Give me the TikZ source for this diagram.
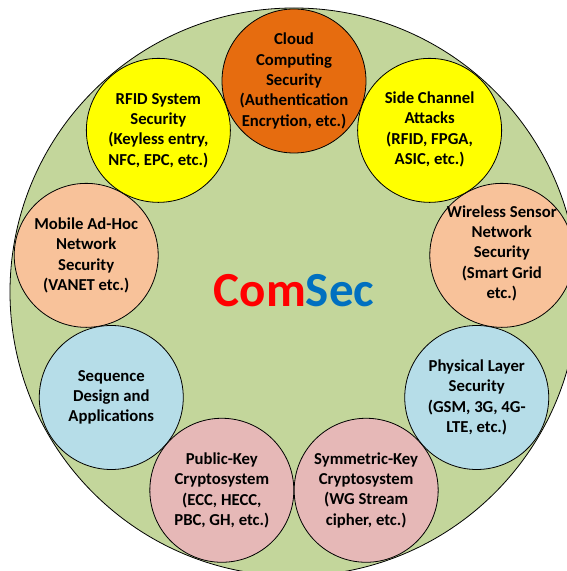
\documentclass[tikz,border=0pt]{standalone}
\usepackage{fontspec}
\setmainfont{Carlito}
\usetikzlibrary{calc}
\definecolor{basegreen}{HTML}{C3D69B}
\definecolor{cloudorange}{HTML}{E66C0F}
\definecolor{topicyellow}{HTML}{FFFF00}
\definecolor{topicpeach}{HTML}{F8C29A}
\definecolor{topicblue}{HTML}{B6DDE8}
\definecolor{topicpink}{HTML}{E6B8B7}
\definecolor{comred}{HTML}{FF0000}
\definecolor{comblue}{HTML}{0070C0}
\begin{document}
\begin{tikzpicture}[x=1pt,y=1pt,
  topic/.style={circle, draw=black, line width=0.8pt, minimum size=144pt, inner sep=0pt},
  topictext/.style={align=center, inner sep=0pt, text=black,
    font=\bfseries\fontsize{16.7}{20.3}\selectfont}]
\useasboundingbox (0,0) rectangle (567,571);
\clip (0,0) rectangle (567,571);
\coordinate (O) at (294,279);
% outer disc
\node[circle, draw=black, line width=0.8pt, fill=basegreen, minimum size=568pt, inner sep=0pt] (base) at (O) {};
% ring of topic circles, 40 degrees apart
\node[topic, fill=cloudorange] (cloud) at ($(O)+(90:211)$) {};
\node[topic, fill=topicyellow] (rfid) at ($(O)+(130:211)$) {};
\node[topic, fill=topicpeach] (manet) at ($(O)+(170:211)$) {};
\node[topic, fill=topicblue] (seq) at ($(O)+(210:211)$) {};
\node[topic, fill=topicpink] (pkc) at ($(O)+(250:211)$) {};
\node[topic, fill=topicpink] (skc) at ($(O)+(290:211)$) {};
\node[topic, fill=topicblue] (phy) at ($(O)+(330:211)$) {};
\node[topic, fill=topicpeach] (wsn) at ($(O)+(10:211)$) {};
\node[topic, fill=topicyellow] (side) at ($(O)+(50:211)$) {};
% labels
\node[topictext] (cloudtext) at (cloud) {Cloud\\Computing\\Security\\(Authentication\\Encrytion, etc.)};
\node[topictext] (rfidtext) at (rfid) {RFID System\\Security\\(Keyless entry,\\NFC, EPC, etc.)};
\node[topictext] (manettext) at (manet) {Mobile Ad-Hoc\\Network\\Security\\(VANET etc.)};
\node[topictext] (seqtext) at (seq) {Sequence\\Design and\\Applications};
\node[topictext] (pkctext) at (pkc) {Public-Key\\Cryptosystem\\(ECC, HECC,\\PBC, GH, etc.)};
\node[topictext] (skctext) at (skc) {Symmetric-Key\\Cryptosystem\\(WG Stream\\cipher, etc.)};
\node[topictext] (phytext) at (phy) {Physical Layer\\Security\\(GSM, 3G, 4G-\\LTE, etc.)};
\node[topictext] (wsntext) at ([yshift=2pt]wsn.center) {Wireless Sensor\\Network\\Security\\(Smart Grid\\etc.)};
\node[topictext] (sidetext) at ([yshift=1pt]side.center) {Side Channel\\Attacks\\(RFID, FPGA,\\ASIC, etc.)};
% title
\node[inner sep=0pt, font=\bfseries\fontsize{49}{49}\selectfont] (title) at (294,280)
  {\textcolor{comred}{Com}\textcolor{comblue}{Sec}};
\end{tikzpicture}
\end{document}
